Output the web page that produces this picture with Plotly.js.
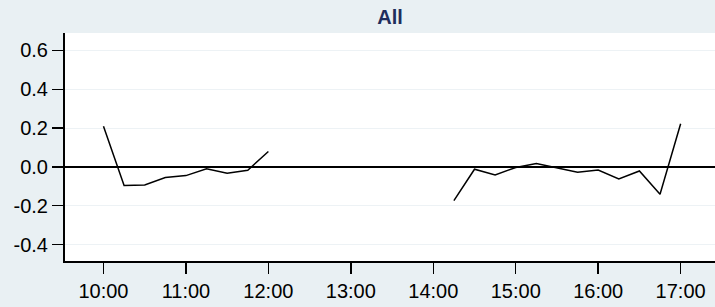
<!DOCTYPE html>
<html>
<head>
<meta charset="utf-8">
<script src="https://cdn.plot.ly/plotly-3.0.1.min.js"></script>
<style>html,body{margin:0;padding:0;background:#e9f0f3;}#chart{width:715px;height:307px;}</style>
</head>
<body>
<div id="chart"></div>
<script>
var times = ["10:00","10:15","10:30","10:45","11:00","11:15","11:30","11:45","12:00",
  "12:15","12:30","12:45","13:00","13:15","13:30","13:45","14:00",
  "14:15","14:30","14:45","15:00","15:15","15:30","15:45","16:00","16:15","16:30","16:45","17:00"];
var values = [0.21,-0.096,-0.093,-0.055,-0.045,-0.010,-0.033,-0.017,0.079,
  null,null,null,null,null,null,null,null,
  -0.174,-0.012,-0.041,-0.003,0.017,-0.005,-0.027,-0.016,-0.062,-0.021,-0.141,0.222];
var yTicks = [-0.4,-0.2,0.0,0.2,0.4,0.6];
var yTickLabels = ["-0.4","-0.2","0.0","0.2","0.4","0.6"];
var xTickTimes = ["10:00","11:00","12:00","13:00","14:00","15:00","16:00","17:00"];
var chartTitle = "All";

var day = "2000-01-01 ";
var x = times.map(function(t){return day + t;});

Plotly.newPlot("chart", [{
  x: x, y: values, type: "scatter", mode: "lines",
  line: {color: "#000000", width: 1.5},
  connectgaps: false, hoverinfo: "skip"
}], {
  width: 715, height: 307,
  paper_bgcolor: "#e9f0f3", plot_bgcolor: "#ffffff",
  margin: {l: 65, r: 0, t: 33, b: 46},
  showlegend: false,
  title: {text: "<b>" + chartTitle + "</b>", x: 0.5, xref: "paper", y: 0.945, yref: "container", yanchor: "middle",
    font: {family: "Liberation Sans, Arial, sans-serif", size: 20, color: "#1f2d5c"}},
  xaxis: {
    type: "date",
    range: [day + "09:32", day + "17:25"],
    tickvals: xTickTimes.map(function(t){return day + t;}),
    ticktext: xTickTimes,
    ticks: "outside", ticklen: 11, tickwidth: 1.5, tickcolor: "#000",
    showline: true, linecolor: "#000", linewidth: 2,
    showgrid: false, zeroline: false,
    tickfont: {family: "Liberation Sans, Arial, sans-serif", size: 20, color: "#000"}
  },
  yaxis: {
    range: [-0.485, 0.69],
    tickvals: yTicks, ticktext: yTickLabels,
    ticks: "outside", ticklen: 11, tickwidth: 1.5, tickcolor: "#000",
    showline: true, linecolor: "#000", linewidth: 2,
    showgrid: true, gridcolor: "#edf2f5", gridwidth: 1,
    zeroline: true, zerolinecolor: "#000", zerolinewidth: 1.5,
    tickfont: {family: "Liberation Sans, Arial, sans-serif", size: 20, color: "#000"}
  }
}, {staticPlot: true});
</script>
</body>
</html>
